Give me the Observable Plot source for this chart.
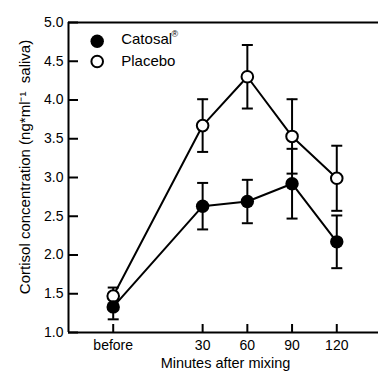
<!DOCTYPE html>
<html>
<head>
<meta charset="utf-8">
<script src="https://cdn.jsdelivr.net/npm/d3@7"></script>
<script src="https://cdn.jsdelivr.net/npm/@observablehq/plot@0.6"></script>
<style>
  html, body { margin: 0; padding: 0; background: #fff; }
</style>
</head>
<body>
<div id="chart"></div>
<script>
// ---- data ----
const minutes = [-30, 30, 60, 90, 120];
const xTickLabels = ["before", "30", "60", "90", "120"];
const catosalMean = [1.33, 2.63, 2.69, 2.92, 2.17];
const catosalErr  = [0.16, 0.30, 0.28, 0.45, 0.34];
const placeboMean = [1.47, 3.67, 4.30, 3.53, 2.99];
const placeboErr  = [0.11, 0.34, 0.41, 0.48, 0.42];
const yTicks = [1.0, 1.5, 2.0, 2.5, 3.0, 3.5, 4.0, 4.5, 5.0];
const xDomain = [-60, 148];
const yDomain = [1, 5];

const rows = [];
minutes.forEach((m, i) => {
  rows.push({series: "Placebo", x: m, y: placeboMean[i], lo: placeboMean[i] - placeboErr[i], hi: placeboMean[i] + placeboErr[i]});
});
minutes.forEach((m, i) => {
  rows.push({series: "Catosal", x: m, y: catosalMean[i], lo: catosalMean[i] - catosalErr[i], hi: catosalMean[i] + catosalErr[i]});
});
const placebo = rows.filter(d => d.series === "Placebo");
const catosal = rows.filter(d => d.series === "Catosal");

const capSymbol = {
  draw(ctx, size) {
    const w = Math.sqrt(size / Math.PI);
    ctx.moveTo(-w, 0);
    ctx.lineTo(w, 0);
  }
};

const font = "'Liberation Sans', Arial, Helvetica, sans-serif";

const chart = Plot.plot({
  width: 379,
  height: 372,
  marginLeft: 68,
  marginRight: 1,
  marginTop: 22,
  marginBottom: 40,
  style: {fontFamily: font, fontSize: "14px", color: "black", background: "white"},
  x: {domain: xDomain, label: null},
  y: {domain: yDomain, label: null},
  marks: [
    // inward ticks
    Plot.axisY({ticks: yTicks, tickSize: 10, dx: 10, tickFormat: () => "", strokeWidth: 2, label: null}),
    Plot.axisY({ticks: yTicks, tickSize: 0, tickPadding: 5, tickFormat: d3.format(".1f"), fontSize: 14, label: null}),
    Plot.axisX({ticks: minutes, tickSize: 8, dy: -8, tickFormat: () => "", strokeWidth: 2, label: null}),
    Plot.axisX({ticks: minutes, tickSize: 0, tickPadding: 8, tickFormat: d => xTickLabels[minutes.indexOf(d)], fontSize: 14, label: null}),
    // frame lines
    Plot.ruleX([xDomain[0]], {strokeWidth: 2}),
    Plot.ruleY([yDomain[0], yDomain[1]], {strokeWidth: 2}),
    // series lines
    Plot.line(rows, {x: "x", y: "y", z: "series", stroke: "black", strokeWidth: 2}),
    // error bars
    Plot.ruleX(rows, {x: "x", y1: "lo", y2: "hi", stroke: "black", strokeWidth: 2}),
    Plot.dot(rows, {x: "x", y: "hi", symbol: capSymbol, r: 5.5, stroke: "black", strokeWidth: 2, fill: "none"}),
    Plot.dot(rows, {x: "x", y: "lo", symbol: capSymbol, r: 5.5, stroke: "black", strokeWidth: 2, fill: "none"}),
    // markers
    Plot.dot(placebo, {x: "x", y: "y", r: 5.8, fill: "white", stroke: "black", strokeWidth: 2}),
    Plot.dot(catosal, {x: "x", y: "y", r: 6.7, fill: "black", stroke: "none"}),
    // legend
    Plot.dot([0], {frameAnchor: "top-left", dx: 28.7, dy: 18.7, r: 6.7, fill: "black", stroke: "none"}),
    Plot.dot([0], {frameAnchor: "top-left", dx: 28.7, dy: 39, r: 5.8, fill: "white", stroke: "black", strokeWidth: 2}),
    Plot.text(["Catosal"], {frameAnchor: "top-left", dx: 52.7, dy: 16.5, textAnchor: "start", lineAnchor: "middle", fontSize: 15}),
    Plot.text(["®"], {frameAnchor: "top-left", dx: 103, dy: 12, textAnchor: "start", lineAnchor: "middle", fontSize: 9}),
    Plot.text(["Placebo"], {frameAnchor: "top-left", dx: 52.7, dy: 38.2, textAnchor: "start", lineAnchor: "middle", fontSize: 15}),
    // axis titles
    Plot.text(["Minutes after mixing"], {frameAnchor: "bottom", dx: 2, dy: 31, textAnchor: "middle", lineAnchor: "middle", fontSize: 14.5, letterSpacing: "0.6px"}),
    Plot.text(["Cortisol concentration (ng*ml⁻¹  saliva)"], {frameAnchor: "left", rotate: -90, dx: -43, dy: -10.5, textAnchor: "middle", lineAnchor: "middle", fontSize: 15})
  ]
});
document.getElementById("chart").appendChild(chart);
</script>
</body>
</html>
